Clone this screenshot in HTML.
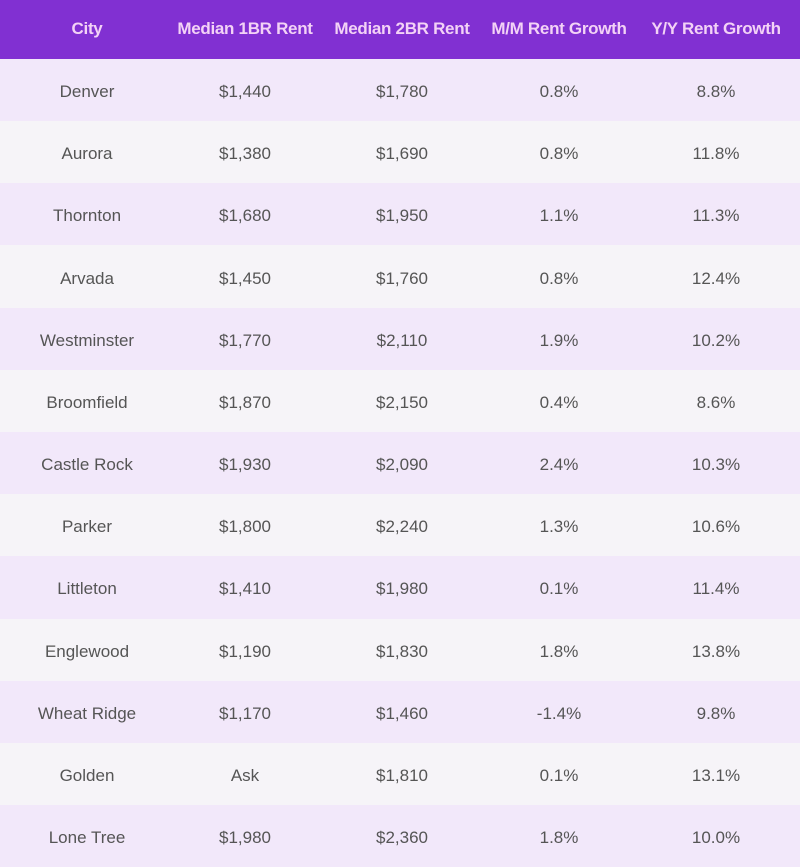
<!DOCTYPE html>
<html><head><style>
body{margin:0;width:800px;height:856px;overflow:hidden;background:#f6f4f8;font-family:"Liberation Sans",sans-serif;}
.h{position:absolute;left:0;top:0;width:800px;height:59px;background:#8130d2;}
.r{position:absolute;left:0;width:800px;height:62.17px;}
.t{position:absolute;transform:translateX(-50%);white-space:nowrap;}
.h .t{top:19px;color:#f3d2f6;font-size:17px;font-weight:bold;letter-spacing:-0.3px}
.r .t{top:23px;color:#555;font-size:17px}
</style></head><body>
<div class="h">
<span class="t" style="left:87px">City</span>
<span class="t" style="left:245px">Median 1BR Rent</span>
<span class="t" style="left:402px">Median 2BR Rent</span>
<span class="t" style="left:559px">M/M Rent Growth</span>
<span class="t" style="left:716px">Y/Y Rent Growth</span>
</div>
<div id="rows"></div>
<script>
const d=[["Denver","$1,440","$1,780","0.8%","8.8%"],["Aurora","$1,380","$1,690","0.8%","11.8%"],["Thornton","$1,680","$1,950","1.1%","11.3%"],["Arvada","$1,450","$1,760","0.8%","12.4%"],["Westminster","$1,770","$2,110","1.9%","10.2%"],["Broomfield","$1,870","$2,150","0.4%","8.6%"],["Castle Rock","$1,930","$2,090","2.4%","10.3%"],["Parker","$1,800","$2,240","1.3%","10.6%"],["Littleton","$1,410","$1,980","0.1%","11.4%"],["Englewood","$1,190","$1,830","1.8%","13.8%"],["Wheat Ridge","$1,170","$1,460","-1.4%","9.8%"],["Golden","Ask","$1,810","0.1%","13.1%"],["Lone Tree","$1,980","$2,360","1.8%","10.0%"]];
const xs=[87,245,402,559,716];let h="";
d.forEach((r,i)=>{h+=`<div class="r" style="top:${59+i*62.17}px;background:${i%2?'#f6f4f8':'#f2e8fa'}">`;r.forEach((c,j)=>h+=`<span class="t" style="left:${xs[j]}px">${c}</span>`);h+="</div>";});
document.getElementById("rows").innerHTML=h;
</script>
</body></html>
